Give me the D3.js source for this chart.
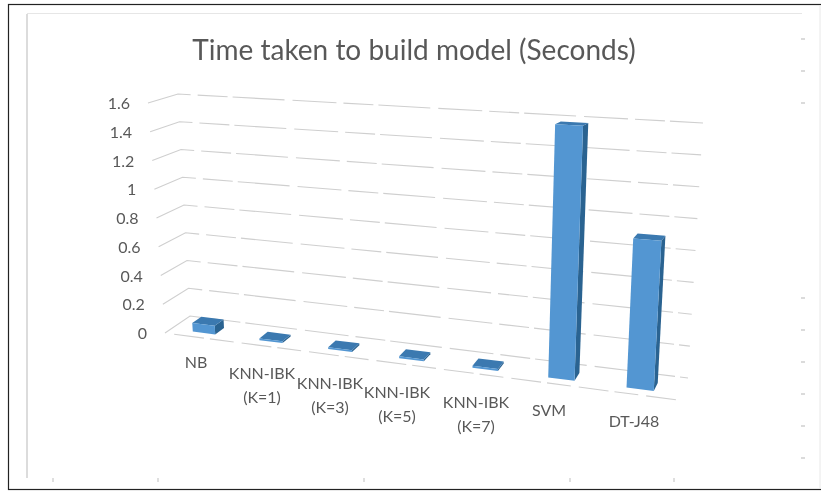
<!DOCTYPE html>
<html><head><meta charset="utf-8">
<script src="https://cdn.jsdelivr.net/npm/d3@7/dist/d3.min.js"></script>
<style>html,body{margin:0;padding:0;background:#fff}svg{display:block}text{font-family:Lato,"Open Sans",sans-serif}</style>
</head><body><svg id="c" width="821" height="491"></svg>
<script>
const titleText = "Time taken to build model (Seconds)";
const categories = ["NB","KNN-IBK|(K=1)","KNN-IBK|(K=3)","KNN-IBK|(K=5)","KNN-IBK|(K=7)","SVM","DT-J48"];
const values = [0.06,0.012,0.012,0.012,0.012,1.58,0.91];
const yTicks = [0,0.2,0.4,0.6,0.8,1,1.2,1.4,1.6];
const rightTicks = [39,71,103,298,330,362,394,426,458];
const bottomTicks = [53,158,364,570,674];

const svg = d3.select("#c");
const W=821,H=491;
const defs = svg.append("defs");
defs.append("filter").attr("id","b").append("feGaussianBlur").attr("stdDeviation",0.6);
defs.append("filter").attr("id","b2").append("feGaussianBlur").attr("stdDeviation",0.7);

// frame
const frame = svg.append("g");
frame.append("rect").attr("x",8.5).attr("y",4.5).attr("width",W).attr("height",485).attr("fill","none").attr("stroke","#222").attr("stroke-width",1.2);
frame.append("line").attr("x1",27).attr("x2",27).attr("y1",14).attr("y2",478).attr("stroke","#dcdcdc").attr("stroke-width",2);
frame.append("line").attr("x1",27).attr("x2",802).attr("y1",13.5).attr("y2",13.5).attr("stroke","#e6e6e6").attr("stroke-width",1);
frame.append("line").attr("x1",820).attr("x2",820).attr("y1",5).attr("y2",489).attr("stroke","#e8e8e8").attr("stroke-width",1);
frame.selectAll(".rt").data(rightTicks).join("line").attr("x1",801).attr("x2",805).attr("y1",d=>d).attr("y2",d=>d).attr("stroke","#cfcfcf").attr("stroke-width",1.5);
frame.selectAll(".bt").data(bottomTicks).join("line").attr("x1",d=>d).attr("x2",d=>d).attr("y1",478).attr("y2",482).attr("stroke","#d5d5d5").attr("stroke-width",1.5);

// projection: u along categories, d depth (0 front,1 back), value v
const vMax=1.6;
const v01 = d3.scaleLinear().domain([0,vMax]).range([0,1]);
const lf=[[165,333],[148,103]], lb=[[190,316],[178,94]], rb=[[688,378],[703,123]], rf=[[678,400],[693,130]];
const k=1.12, persp=u=>u/(k-(k-1)*u);
const mix=(a,b,t)=>a+(b-a)*t;
function P(u,d,v){
  const t=persp(u), s=v01(v);
  const corner=(c)=>[mix(c[0][0],c[1][0],s),mix(c[0][1],c[1][1],s)];
  const L0=corner(lf),L1=corner(lb),R0=corner(rf),R1=corner(rb);
  const Lx=mix(L0[0],L1[0],d),Ly=mix(L0[1],L1[1],d),Rx=mix(R0[0],R1[0],d),Ry=mix(R0[1],R1[1],d);
  return [mix(Lx,Rx,t),mix(Ly,Ry,t)];
}
const path=pts=>"M"+pts.map(p=>p.map(n=>n.toFixed(2)).join(",")).join("L")+"Z";
const line=d3.line();

const plot=svg.append("g").attr("filter","url(#b)");
// gridlines: left wall and back wall
plot.selectAll(".g").data(yTicks).join("path").attr("fill","none").attr("stroke","#cfcfcf").attr("stroke-width",1.1)
  .attr("stroke-dasharray","44 7 30 5 52 8")
  .attr("d",v=>line([P(0,0,v),P(0,1,v),P(1,1,v)]));
// floor front edge
plot.append("path").attr("fill","none").attr("stroke","#cfcfcf").attr("stroke-width",1.1).attr("stroke-dasharray","30 6 24 8")
  .attr("d",line([P(0.02,0,0),P(1,0,0)]));

// bars
const band=d3.scaleBand().domain(d3.range(categories.length)).range([0,1]).paddingInner(0.66).paddingOuter(0.33);
const bars=plot.selectAll(".bar").data(values).join("g");
const D0=0.25,D1=0.62;
bars.each(function(v,i){
  const g=d3.select(this), a=band(i), b=a+band.bandwidth();
  g.append("path").attr("fill","#2b6391").attr("d",path([P(b,D0,0),P(b,D1,0),P(b,D1,v),P(b,D0,v)]));
  g.append("path").attr("fill","#3a79b0").attr("d",path([P(a,D0,v),P(b,D0,v),P(b,D1,v),P(a,D1,v)]));
  g.append("path").attr("fill","#5296d2").attr("d",path([P(a,D0,0),P(b,D0,0),P(b,D0,v),P(a,D0,v)]));
});

// text
const txt=svg.append("g").attr("filter","url(#b2)").attr("fill","#595959");
txt.append("text").attr("x",414).attr("y",60).attr("text-anchor","middle").attr("font-size",28).text(titleText);
txt.selectAll(".yl").data(yTicks).join("text").attr("font-size",16).attr("text-anchor","end")
  .attr("x",v=>P(0,0,v)[0]-18).attr("y",v=>P(0,0,v)[1]+6).text(v=>v);
const labelPos=[[196,362],[262,373],[330,383],[397,392],[476,402],[549,410],[634,421]];
categories.forEach((c,i)=>{
  const parts=c.split("|");
  parts.forEach((p,j)=>{
    txt.append("text").attr("font-size",16).attr("text-anchor","middle")
      .attr("x",labelPos[i][0]).attr("y",labelPos[i][1]+6+j*24).text(p);
  });
});
</script></body></html>
